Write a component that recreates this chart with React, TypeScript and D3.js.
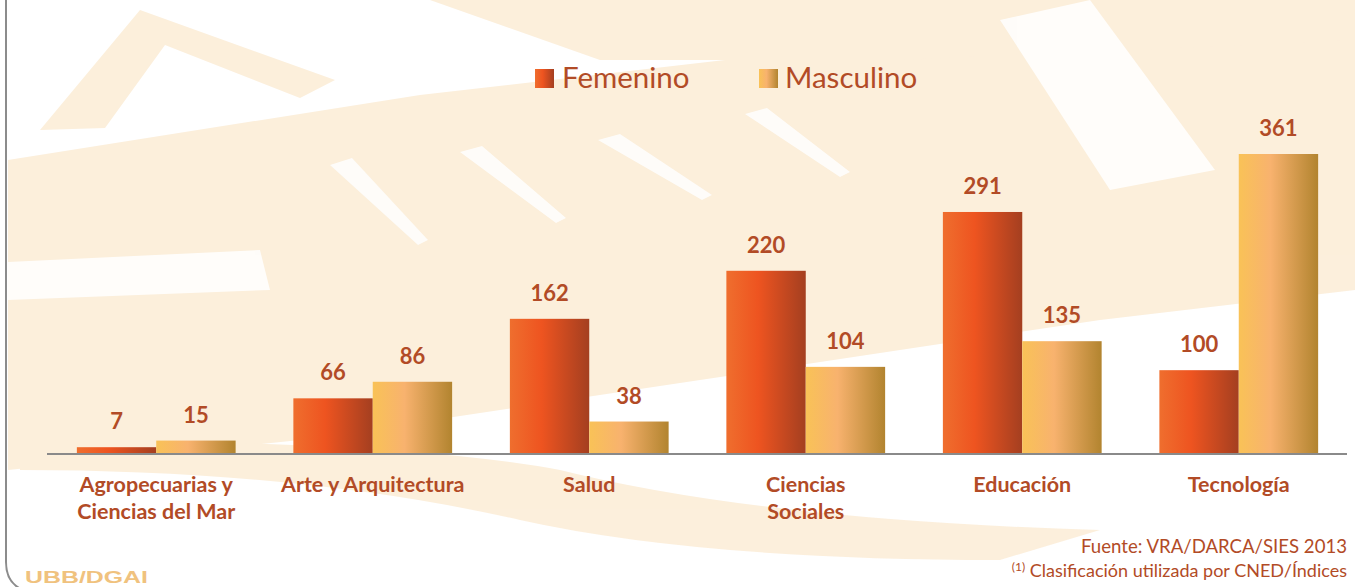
import React from "react";
import * as d3 from "d3";

const categories = [
  ["Agropecuarias y", "Ciencias del Mar"],
  ["Arte y Arquitectura"],
  ["Salud"],
  ["Ciencias", "Sociales"],
  ["Educación"],
  ["Tecnología"],
];
const femenino = [7, 66, 162, 220, 291, 100];
const masculino = [15, 86, 38, 104, 135, 361];
const seriesNames = ["Femenino", "Masculino"];

const W = 1355;
const H = 587;
const TEXT = "#B24B26";
const FONT = "Lato, 'Open Sans', sans-serif";

export default function App() {
  const x = d3
    .scaleBand<number>()
    .domain(d3.range(categories.length))
    .range([48, 1347])
    .paddingInner(0.2667)
    .paddingOuter(0.1333);
  const sub = d3.scaleBand<number>().domain([0, 1]).range([0, x.bandwidth()]);
  const y = d3.scaleLinear().domain([0, 361]).range([453, 154]);
  const series = [femenino, masculino];
  const fills = ["url(#gFem)", "url(#gMas)"];

  return (
    <svg
      width={W}
      height={H}
      style={{ position: "absolute", left: 0, top: 0, display: "block", background: "#fff" }}
    >
      <defs>
        <linearGradient id="gFem" x1="0" x2="1" y1="0" y2="0">
          <stop offset="0%" stopColor="#EF6E2E" />
          <stop offset="40%" stopColor="#EE5420" />
          <stop offset="100%" stopColor="#A43F20" />
        </linearGradient>
        <linearGradient id="gMas" x1="0" x2="1" y1="0" y2="0">
          <stop offset="0%" stopColor="#F9C257" />
          <stop offset="40%" stopColor="#F8B26E" />
          <stop offset="100%" stopColor="#B2842F" />
        </linearGradient>
      </defs>

      {/* faint watermark approximation */}
      <g fill="#FBEAD0" opacity={0.75}>
        <polygon points="8,160 420,95 900,40 1355,0 1355,290 1100,320 700,380 300,440 8,470" />
        <polygon points="40,130 140,10 335,80 300,98 165,45 105,128" />
        <polygon points="430,0 1355,0 1355,40 900,60 600,60" />
        <path d="M20,470 Q300,470 520,520 Q700,560 1000,560 L1100,530 Q760,520 560,470 Q400,440 20,440 Z" />
      </g>
      <g fill="#FFFFFF" opacity={0.85}>
        <polygon points="1000,20 1090,0 1215,170 1110,190" />
        <polygon points="8,262 260,250 270,290 8,300" />
        <polygon points="330,165 352,158 428,240 418,245" />
        <polygon points="460,152 482,146 566,218 556,223" />
        <polygon points="598,140 620,134 712,195 702,200" />
        <polygon points="745,114 767,108 850,172 840,177" />
      </g>

      {/* left frame */}
      <path d="M6,0 V562 Q6,587 30,592" fill="none" stroke="#8C8C8C" strokeWidth={2} />

      {/* legend */}
      <g fontFamily={FONT} fontSize={29.5} fill={TEXT}>
        <rect x={535} y={69} width={19} height={19} fill="url(#gFem)" />
        <text x={562} y={88}>{seriesNames[0]}</text>
        <rect x={759} y={69} width={19} height={19} fill="url(#gMas)" />
        <text x={785} y={88}>{seriesNames[1]}</text>
      </g>

      {/* bars */}
      {series.map((vals, s) => (
        <g key={s}>
          {vals.map((v, i) => (
            <rect
              key={i}
              x={(x(i) as number) + (sub(s) as number)}
              y={y(v)}
              width={sub.bandwidth()}
              height={y(0) - y(v)}
              fill={fills[s]}
            />
          ))}
        </g>
      ))}

      {/* value labels */}
      <g fontFamily={FONT} fontSize={22} fontWeight={700} fill={TEXT} textAnchor="middle">
        {series.map((vals, s) =>
          vals.map((v, i) => (
            <text
              key={`${s}-${i}`}
              x={(x(i) as number) + (sub(s) as number) + sub.bandwidth() / 2}
              y={y(v) - 18}
            >
              {v}
            </text>
          ))
        )}
      </g>

      {/* axis line */}
      <line x1={47} x2={1347} y1={y(0) + 1} y2={y(0) + 1} stroke="#8A8A8A" strokeWidth={2} />

      {/* category labels */}
      <g fontFamily={FONT} fontSize={21.5} fontWeight={700} fill={TEXT} textAnchor="middle">
        {categories.map((lines, i) => (
          <text key={i} x={(x(i) as number) + x.bandwidth() / 2} y={492}>
            {lines.map((l, j) => (
              <tspan key={j} x={(x(i) as number) + x.bandwidth() / 2} dy={j === 0 ? 0 : 27}>
                {l}
              </tspan>
            ))}
          </text>
        ))}
      </g>

      {/* footer */}
      <g fontFamily={FONT} fill={TEXT} textAnchor="end">
        <text x={1347} y={553} fontSize={18.6}>Fuente: VRA/DARCA/SIES 2013</text>
        <text x={1347} y={577} fontSize={18}>
          <tspan fontSize={12} dy={-6}>(1)</tspan>
          <tspan dy={6}> Clasificación utilizada por CNED/Índices</tspan>
        </text>
      </g>
      <text
        x={25}
        y={583}
        fontFamily="'Liberation Sans', Arial, sans-serif"
        fontWeight={700}
        fontSize={16}
        fill="#F0C27E"
        textLength={123}
        lengthAdjust="spacingAndGlyphs"
      >
        UBB/DGAI
      </text>
    </svg>
  );
}
